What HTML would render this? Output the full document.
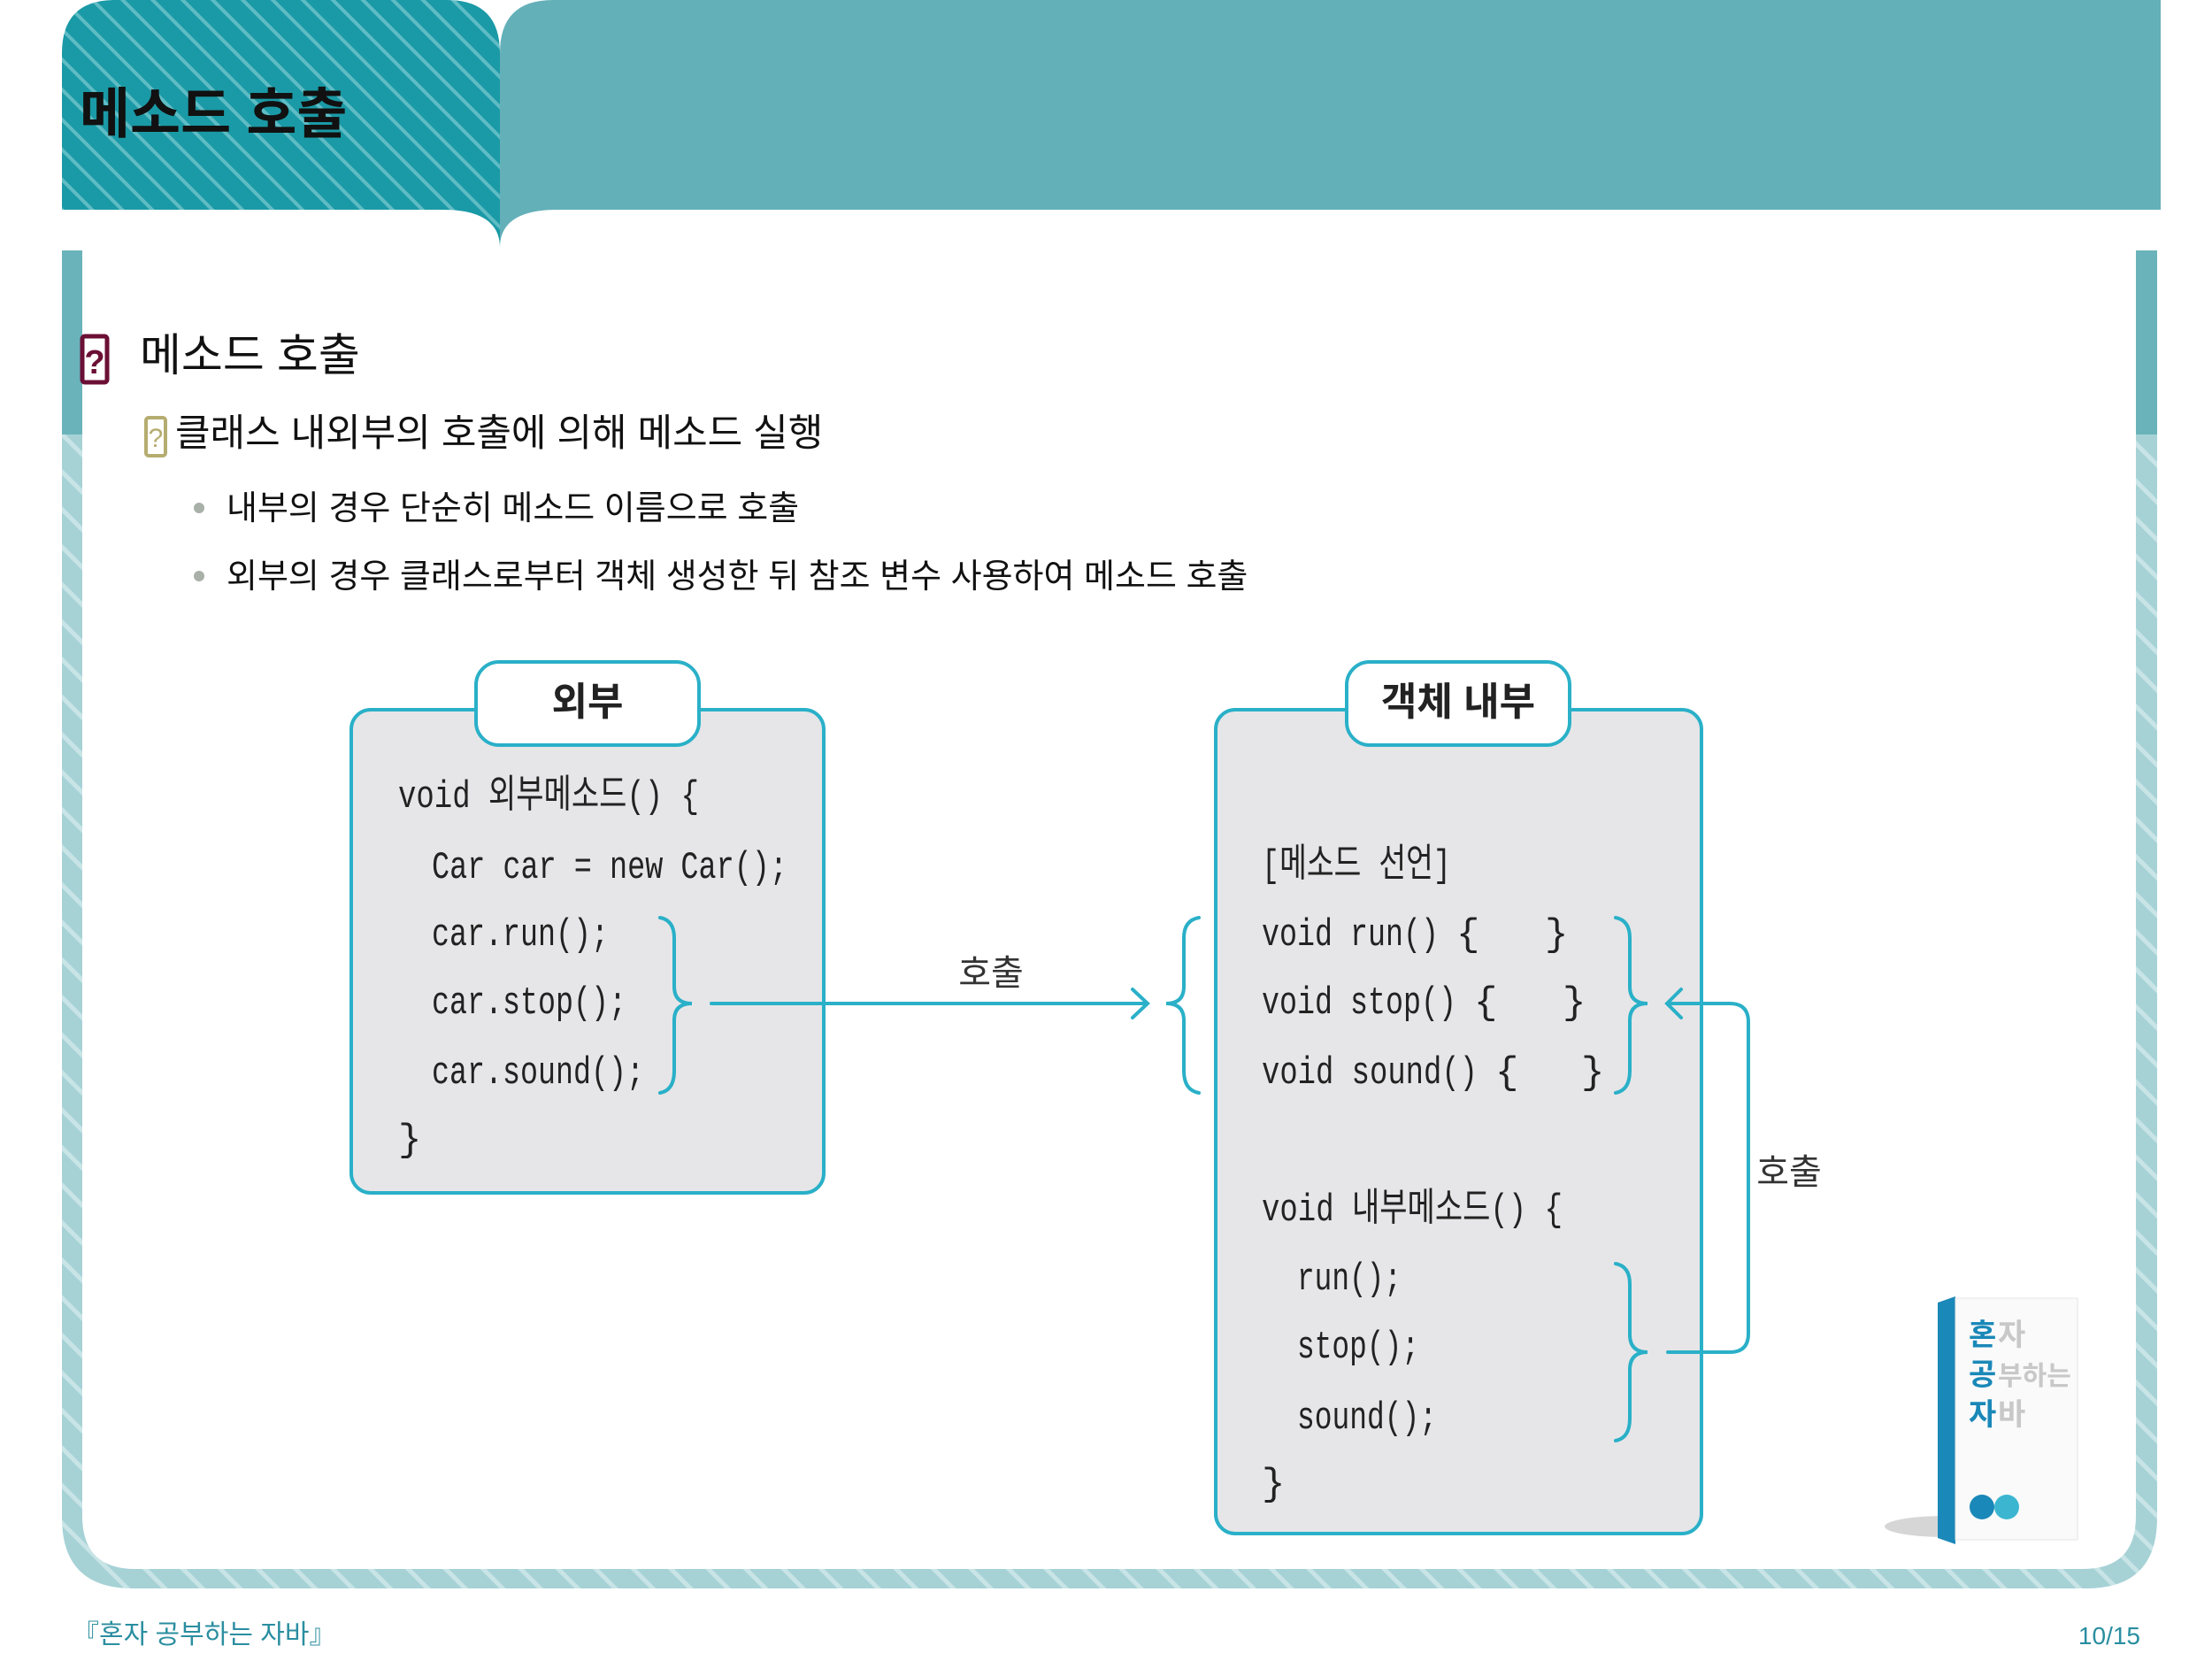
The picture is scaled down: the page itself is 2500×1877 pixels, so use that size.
<!DOCTYPE html>
<html><head><meta charset="utf-8"><style>
html,body{margin:0;padding:0;background:#fff;}
svg{display:block;}
text{font-family:"Liberation Sans","Noto Sans CJK KR",sans-serif;}
.code{font-family:"Liberation Mono","Noto Sans CJK KR",monospace;font-size:44px;fill:#222;white-space:pre;}
</style></head><body>
<svg width="2500" height="1877" viewBox="0 0 2500 1877" xmlns="http://www.w3.org/2000/svg">
<defs>
<pattern id="hatch" width="24" height="24" patternUnits="userSpaceOnUse" patternTransform="rotate(-45)">
<rect width="24" height="24" fill="#1a9aa6"/><rect width="4" height="24" fill="#5fbcc4"/></pattern>
<pattern id="hatch2" width="30" height="30" patternUnits="userSpaceOnUse" patternTransform="rotate(-45)">
<rect width="30" height="30" fill="#a6d2d6"/><rect width="5" height="30" fill="#c8e4e6"/></pattern>
</defs>
<!-- header -->
<path d="M70 60 Q70 0 130 0 L505 0 Q565 0 565 60 L565 280 Q565 237 500 237 L70 237 Z" fill="url(#hatch)"/>
<path d="M565 280 L565 60 Q565 0 625 0 L2442 0 L2442 237 L630 237 Q565 237 565 280 Z" fill="#64b0b8"/>
<text x="90" y="150" font-size="62" font-weight="bold" fill="#111">메소드 호출</text>
<!-- frame -->
<path d="M70 283 L93 283 L93 1713 Q93 1773 153 1773 L2354 1773 Q2414 1773 2414 1713 L2414 283 L2438 283 L2438 1715 Q2438 1795 2358 1795 L150 1795 Q70 1795 70 1715 Z" fill="url(#hatch2)"/>
<path d="M70 283 L93 283 L93 491 L70 491 Z M2414 283 L2438 283 L2438 491 L2414 491 Z" fill="#6ab3ba"/>
<!-- headings -->
<rect x="93" y="380" width="28" height="52" rx="3" fill="#fff" stroke="#6b0f35" stroke-width="5"/>
<text x="107" y="422" font-size="38" font-weight="bold" fill="#6b0f35" text-anchor="middle">?</text>
<text x="158" y="419" font-size="51" fill="#111">메소드 호출</text>
<rect x="165" y="472" width="22" height="43" rx="3" fill="#fff" stroke="#b5ac70" stroke-width="4"/>
<text x="176" y="505" font-size="30" fill="#b5ac70" text-anchor="middle">?</text>
<text x="198" y="504" font-size="43" fill="#111">클래스 내외부의 호출에 의해 메소드 실행</text>
<circle cx="225" cy="574" r="6" fill="#a8b0a8"/>
<circle cx="225" cy="651" r="6" fill="#a8b0a8"/>
<text x="256" y="587" font-size="38" fill="#111">내부의 경우 단순히 메소드 이름으로 호출</text>
<text x="256" y="664" font-size="38" fill="#111">외부의 경우 클래스로부터 객체 생성한 뒤 참조 변수 사용하여 메소드 호출</text>
<!-- left box -->
<rect x="397" y="802" width="534" height="546" rx="22" fill="#e6e6e8" stroke="#2ab0c8" stroke-width="4"/>
<rect x="538" y="748" width="252" height="94" rx="26" fill="#fff" stroke="#2ab0c8" stroke-width="4"/>
<text x="664" y="808" font-size="44" font-weight="bold" text-anchor="middle" fill="#222">외부</text>
<text class="code" x="450" y="912" textLength="340" lengthAdjust="spacingAndGlyphs">void 외부메소드() {</text>
<text class="code" x="488" y="992" textLength="402" lengthAdjust="spacingAndGlyphs">Car car = new Car();</text>
<text class="code" x="488" y="1068" textLength="200" lengthAdjust="spacingAndGlyphs">car.run();</text>
<text class="code" x="488" y="1145" textLength="220" lengthAdjust="spacingAndGlyphs">car.stop();</text>
<text class="code" x="488" y="1224" textLength="240" lengthAdjust="spacingAndGlyphs">car.sound();</text>
<text class="code" x="450" y="1300">}</text>
<!-- right box -->
<rect x="1374" y="802" width="549" height="931" rx="22" fill="#e6e6e8" stroke="#2ab0c8" stroke-width="4"/>
<rect x="1522" y="748" width="252" height="94" rx="26" fill="#fff" stroke="#2ab0c8" stroke-width="4"/>
<text x="1648" y="808" font-size="44" font-weight="bold" text-anchor="middle" fill="#222">객체 내부</text>
<text class="code" x="1426" y="990" textLength="214" lengthAdjust="spacingAndGlyphs">[메소드 선언]</text>
<text class="code" x="1426" y="1068" textLength="200" lengthAdjust="spacingAndGlyphs">void run()</text>
<text class="code" x="1646" y="1068">{</text><text class="code" x="1746" y="1068">}</text>
<text class="code" x="1426" y="1145" textLength="220" lengthAdjust="spacingAndGlyphs">void stop()</text>
<text class="code" x="1666" y="1145">{</text><text class="code" x="1766" y="1145">}</text>
<text class="code" x="1426" y="1224" textLength="244" lengthAdjust="spacingAndGlyphs">void sound()</text>
<text class="code" x="1690" y="1224">{</text><text class="code" x="1787" y="1224">}</text>
<text class="code" x="1426" y="1379" textLength="340" lengthAdjust="spacingAndGlyphs">void 내부메소드() {</text>
<text class="code" x="1466" y="1457" textLength="118" lengthAdjust="spacingAndGlyphs">run();</text>
<text class="code" x="1466" y="1534" textLength="138" lengthAdjust="spacingAndGlyphs">stop();</text>
<text class="code" x="1466" y="1614" textLength="158" lengthAdjust="spacingAndGlyphs">sound();</text>
<text class="code" x="1426" y="1689">}</text>
<!-- braces & connectors -->
<g fill="none" stroke="#2ab0c8" stroke-width="4" stroke-linecap="round">
<path d="M746 1037 Q762 1040 762 1060 L762 1115 Q762 1134 782 1134 Q762 1134 762 1153 L762 1210 Q762 1232 746 1235"/>
<path d="M804 1134 L1296 1134 M1280 1118 L1297 1134 L1280 1150"/>
<path d="M1355 1037 Q1338 1040 1338 1060 L1338 1115 Q1338 1134 1318 1134 Q1338 1134 1338 1153 L1338 1210 Q1338 1232 1355 1235"/>
<path d="M1826 1037 Q1842 1040 1842 1060 L1842 1115 Q1842 1134 1862 1134 Q1842 1134 1842 1153 L1842 1210 Q1842 1232 1826 1235"/>
<path d="M1826 1428 Q1842 1431 1842 1451 L1842 1508 Q1842 1528 1862 1528 Q1842 1528 1842 1548 L1842 1603 Q1842 1625 1826 1628"/>
<path d="M1885 1528 L1955 1528 Q1976 1528 1976 1507 L1976 1155 Q1976 1134 1955 1134 L1885 1134 M1900 1118 L1884 1134 L1900 1150"/>
</g>
<text x="1120" y="1113" font-size="40" text-anchor="middle" fill="#333">호출</text>
<text x="2022" y="1338" font-size="40" text-anchor="middle" fill="#333">호출</text>
<!-- book -->
<ellipse cx="2200" cy="1725" rx="70" ry="12" fill="#bbb" opacity="0.6"/>
<path d="M2190 1472 L2210 1465 L2210 1745 L2190 1738 Z" fill="#1a88b8"/>
<rect x="2210" y="1467" width="138" height="273" fill="#fafafa" stroke="#e4e4e4"/>
<text x="2225" y="1520" font-size="34" font-weight="bold" fill="#1a88b8">혼</text>
<text x="2258" y="1520" font-size="34" font-weight="bold" fill="#c8c8c8">자</text>
<text x="2225" y="1565" font-size="34" font-weight="bold" fill="#1a88b8">공</text>
<text x="2258" y="1565" font-size="30" font-weight="bold" fill="#c8c8c8">부하는</text>
<text x="2225" y="1610" font-size="34" font-weight="bold" fill="#1a88b8">자</text>
<text x="2258" y="1610" font-size="34" font-weight="bold" fill="#c8c8c8">바</text>
<circle cx="2240" cy="1703" r="14" fill="#1a88b8"/><circle cx="2268" cy="1703" r="14" fill="#3cb6d0"/>
<!-- footer -->
<text x="82" y="1857" font-size="30" fill="#2a8ea0">『혼자 공부하는 자바』</text>
<text x="2419" y="1858" font-size="28" fill="#2a8ea0" text-anchor="end">10/15</text>
</svg>
</body></html>
